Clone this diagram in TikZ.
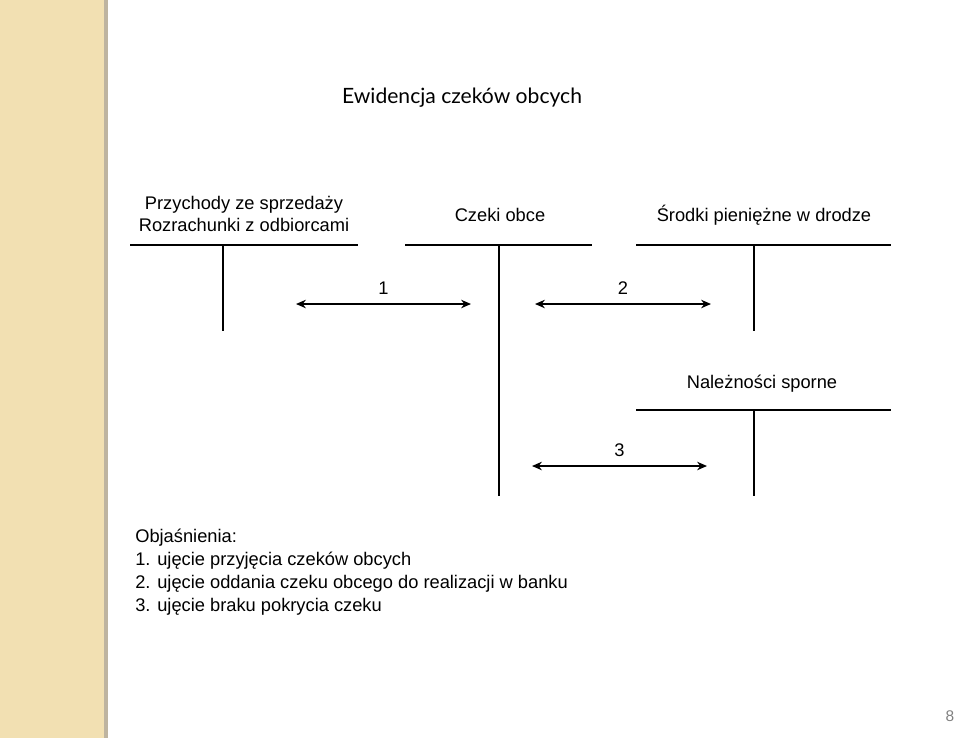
\documentclass[tikz,border=0pt]{standalone}
\usepackage{fontspec}
\setmainfont{Liberation Sans}
\newfontfamily\titlefont{Lato}
\usetikzlibrary{arrows.meta}
\definecolor{stripe}{RGB}{242,224,178}
\definecolor{stripeedge}{RGB}{190,180,160}
\begin{document}
\begin{tikzpicture}[x=0.025cm,y=-0.025cm,
    lbl/.style={font=\fontsize{13}{15}\selectfont},
    acct/.style={line width=1pt},
    flow/.style={line width=1.2pt,{Stealth[length=7pt,width=6pt]}-{Stealth[length=7pt,width=6pt]}}]
    \useasboundingbox (0,0) rectangle (960,738);
    \fill[stripe] (0,0) rectangle (106,738);
    \fill[stripeedge] (104,0) rectangle (108,738);
    % title
    \node (title) at (462,98) {\titlefont\fontsize{15}{18}\selectfont Ewidencja czeków obcych};
    % accounts
    \node[lbl,align=center] (przych) at (244,214) {Przychody ze sprzedaży\\Rozrachunki z odbiorcami};
    \node[lbl] (czeki) at (500,215) {Czeki obce};
    \node[lbl] (srodki) at (764,215) {Środki pieniężne w drodze};
    \node[lbl] (nalez) at (762,384) {Należności sporne};
    \coordinate (p1) at (130,245); \coordinate (p2) at (358,245);
    \coordinate (p3) at (223,245); \coordinate (p4) at (223,331);
    \coordinate (c1) at (405,245); \coordinate (c2) at (592,245);
    \coordinate (c3) at (499,245); \coordinate (c4) at (499,496);
    \coordinate (s1) at (636,245); \coordinate (s2) at (891,245);
    \coordinate (s3) at (754,245); \coordinate (s4) at (754,331);
    \coordinate (n1) at (636,410); \coordinate (n2) at (891,410);
    \coordinate (n3) at (754,410); \coordinate (n4) at (754,496);
    \draw[acct] (p1) -- (p2) (p3) -- (p4);
    \draw[acct] (c1) -- (c2) (c3) -- (c4);
    \draw[acct] (s1) -- (s2) (s3) -- (s4);
    \draw[acct] (n1) -- (n2) (n3) -- (n4);
    % operations
    \coordinate (a1) at (296,304); \coordinate (b1) at (471,304);
    \coordinate (a2) at (535,304); \coordinate (b2) at (711,304);
    \coordinate (a3) at (532,466); \coordinate (b3) at (707,466);
    \draw[flow] (a1) -- node[lbl,above=3pt] (op1) {1} (b1);
    \draw[flow] (a2) -- node[lbl,above=3pt] (op2) {2} (b2);
    \draw[flow] (a3) -- node[lbl,above=3pt] (op3) {3} (b3);
    % notes
    \node[lbl,anchor=north west,align=left,inner sep=0pt] (notes) at (135,529)
      {Objaśnienia:\\[1.2pt]1. ujęcie przyjęcia czeków obcych\\[1.2pt]2. ujęcie oddania czeku obcego do realizacji w banku\\[1.2pt]3. ujęcie braku pokrycia czeku};
    \node[text=gray,font=\fontsize{11}{13}\selectfont] (page) at (950,716) {8};
\end{tikzpicture}
\end{document}
